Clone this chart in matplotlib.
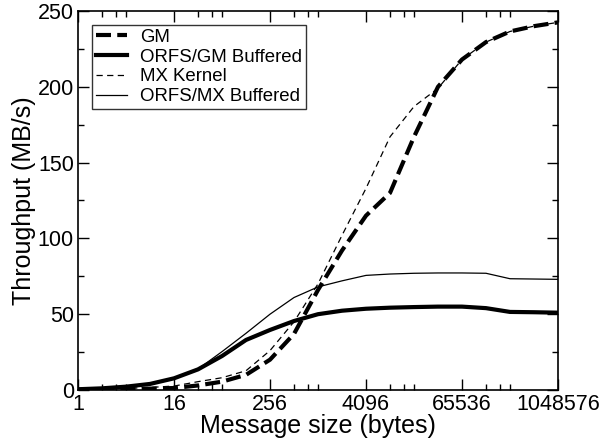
import numpy as np
import matplotlib
matplotlib.use("Agg")
import matplotlib.pyplot as plt
from matplotlib.ticker import FixedLocator, NullFormatter

plt.rcParams['font.family'] = ['Liberation Sans', 'DejaVu Sans']

# message sizes: 1 .. 1048576 bytes (powers of two)
sizes = [2 ** k for k in range(21)]

gm = [0.1, 0.3, 0.6, 0.9, 1.3, 3.0, 5.5, 10.0, 20.0, 37.0, 66.0,
      92.0, 115.0, 130.0, 167.0, 200.0, 218.0, 229.5, 236.5, 240.0, 242.5]
orfs_gm = [0.5, 1.1, 2.2, 4.0, 7.7, 13.6, 22.4, 33.0, 39.6, 45.5, 50.0,
           52.3, 53.6, 54.3, 54.7, 55.0, 55.0, 54.0, 51.5, 51.3, 51.0]
mx = [0.2, 0.5, 1.0, 1.7, 2.6, 5.5, 8.1, 12.7, 26.0, 45.0, 70.0,
      102.0, 133.0, 167.0, 187.0, 199.0, 218.0, 229.5, 236.5, 240.0, 242.5]
orfs_mx = [0.5, 1.1, 2.2, 4.0, 7.7, 13.8, 25.3, 37.4, 50.0, 61.0, 68.0,
           72.0, 75.6, 76.5, 77.0, 77.2, 77.2, 77.0, 73.4, 73.2, 73.0]

xticks = [1, 16, 256, 4096, 65536, 1048576]

fig = plt.figure(figsize=(6.04, 4.40), dpi=100)
ax = fig.add_axes([78 / 604, 1 - 390 / 440, 480 / 604, 379 / 440])

ax.plot(sizes, gm, color='black', lw=3.0, dashes=(3.6, 1.5), label='GM')
ax.plot(sizes, orfs_gm, color='black', lw=3.0, label='ORFS/GM Buffered')
ax.plot(sizes, mx, color='black', lw=0.9, dashes=(5, 3.5), label='MX Kernel')
ax.plot(sizes, orfs_mx, color='black', lw=0.9, label='ORFS/MX Buffered')

ax.set_xscale('log', base=2)
ax.set_xlim(1, 1048576)
ax.set_ylim(0, 250)
ax.xaxis.set_major_locator(FixedLocator(xticks))
ax.set_xticklabels([str(t) for t in xticks])
minors = [m * f for m in xticks[:-1] for f in (2, 3, 4)]
ax.xaxis.set_minor_locator(FixedLocator(minors))
ax.xaxis.set_minor_formatter(NullFormatter())
ax.set_yticks(np.arange(0, 251, 50))
ax.set_yticks(np.arange(25, 250, 50), minor=True)

ax.tick_params(which='both', direction='in', top=True, right=True,
               labelsize=15.5, width=1, pad=3)
ax.tick_params(which='major', length=8)
ax.tick_params(which='minor', length=4)
for s in ax.spines.values():
    s.set_linewidth(1.2)

ax.set_xlabel('Message size (bytes)', fontsize=18, labelpad=-1)
ax.set_ylabel('Throughput (MB/s)', fontsize=18, labelpad=1)

leg = ax.legend(loc='upper left', bbox_to_anchor=(14 / 480, 1 - 14 / 379),
                fontsize=13.4, frameon=True, fancybox=False, borderpad=0.2,
                labelspacing=0.15, handlelength=1.7, handletextpad=0.7,
                borderaxespad=0)
leg.get_frame().set_edgecolor('black')
leg.get_frame().set_linewidth(1.0)

fig.savefig('out.png', dpi=100)
